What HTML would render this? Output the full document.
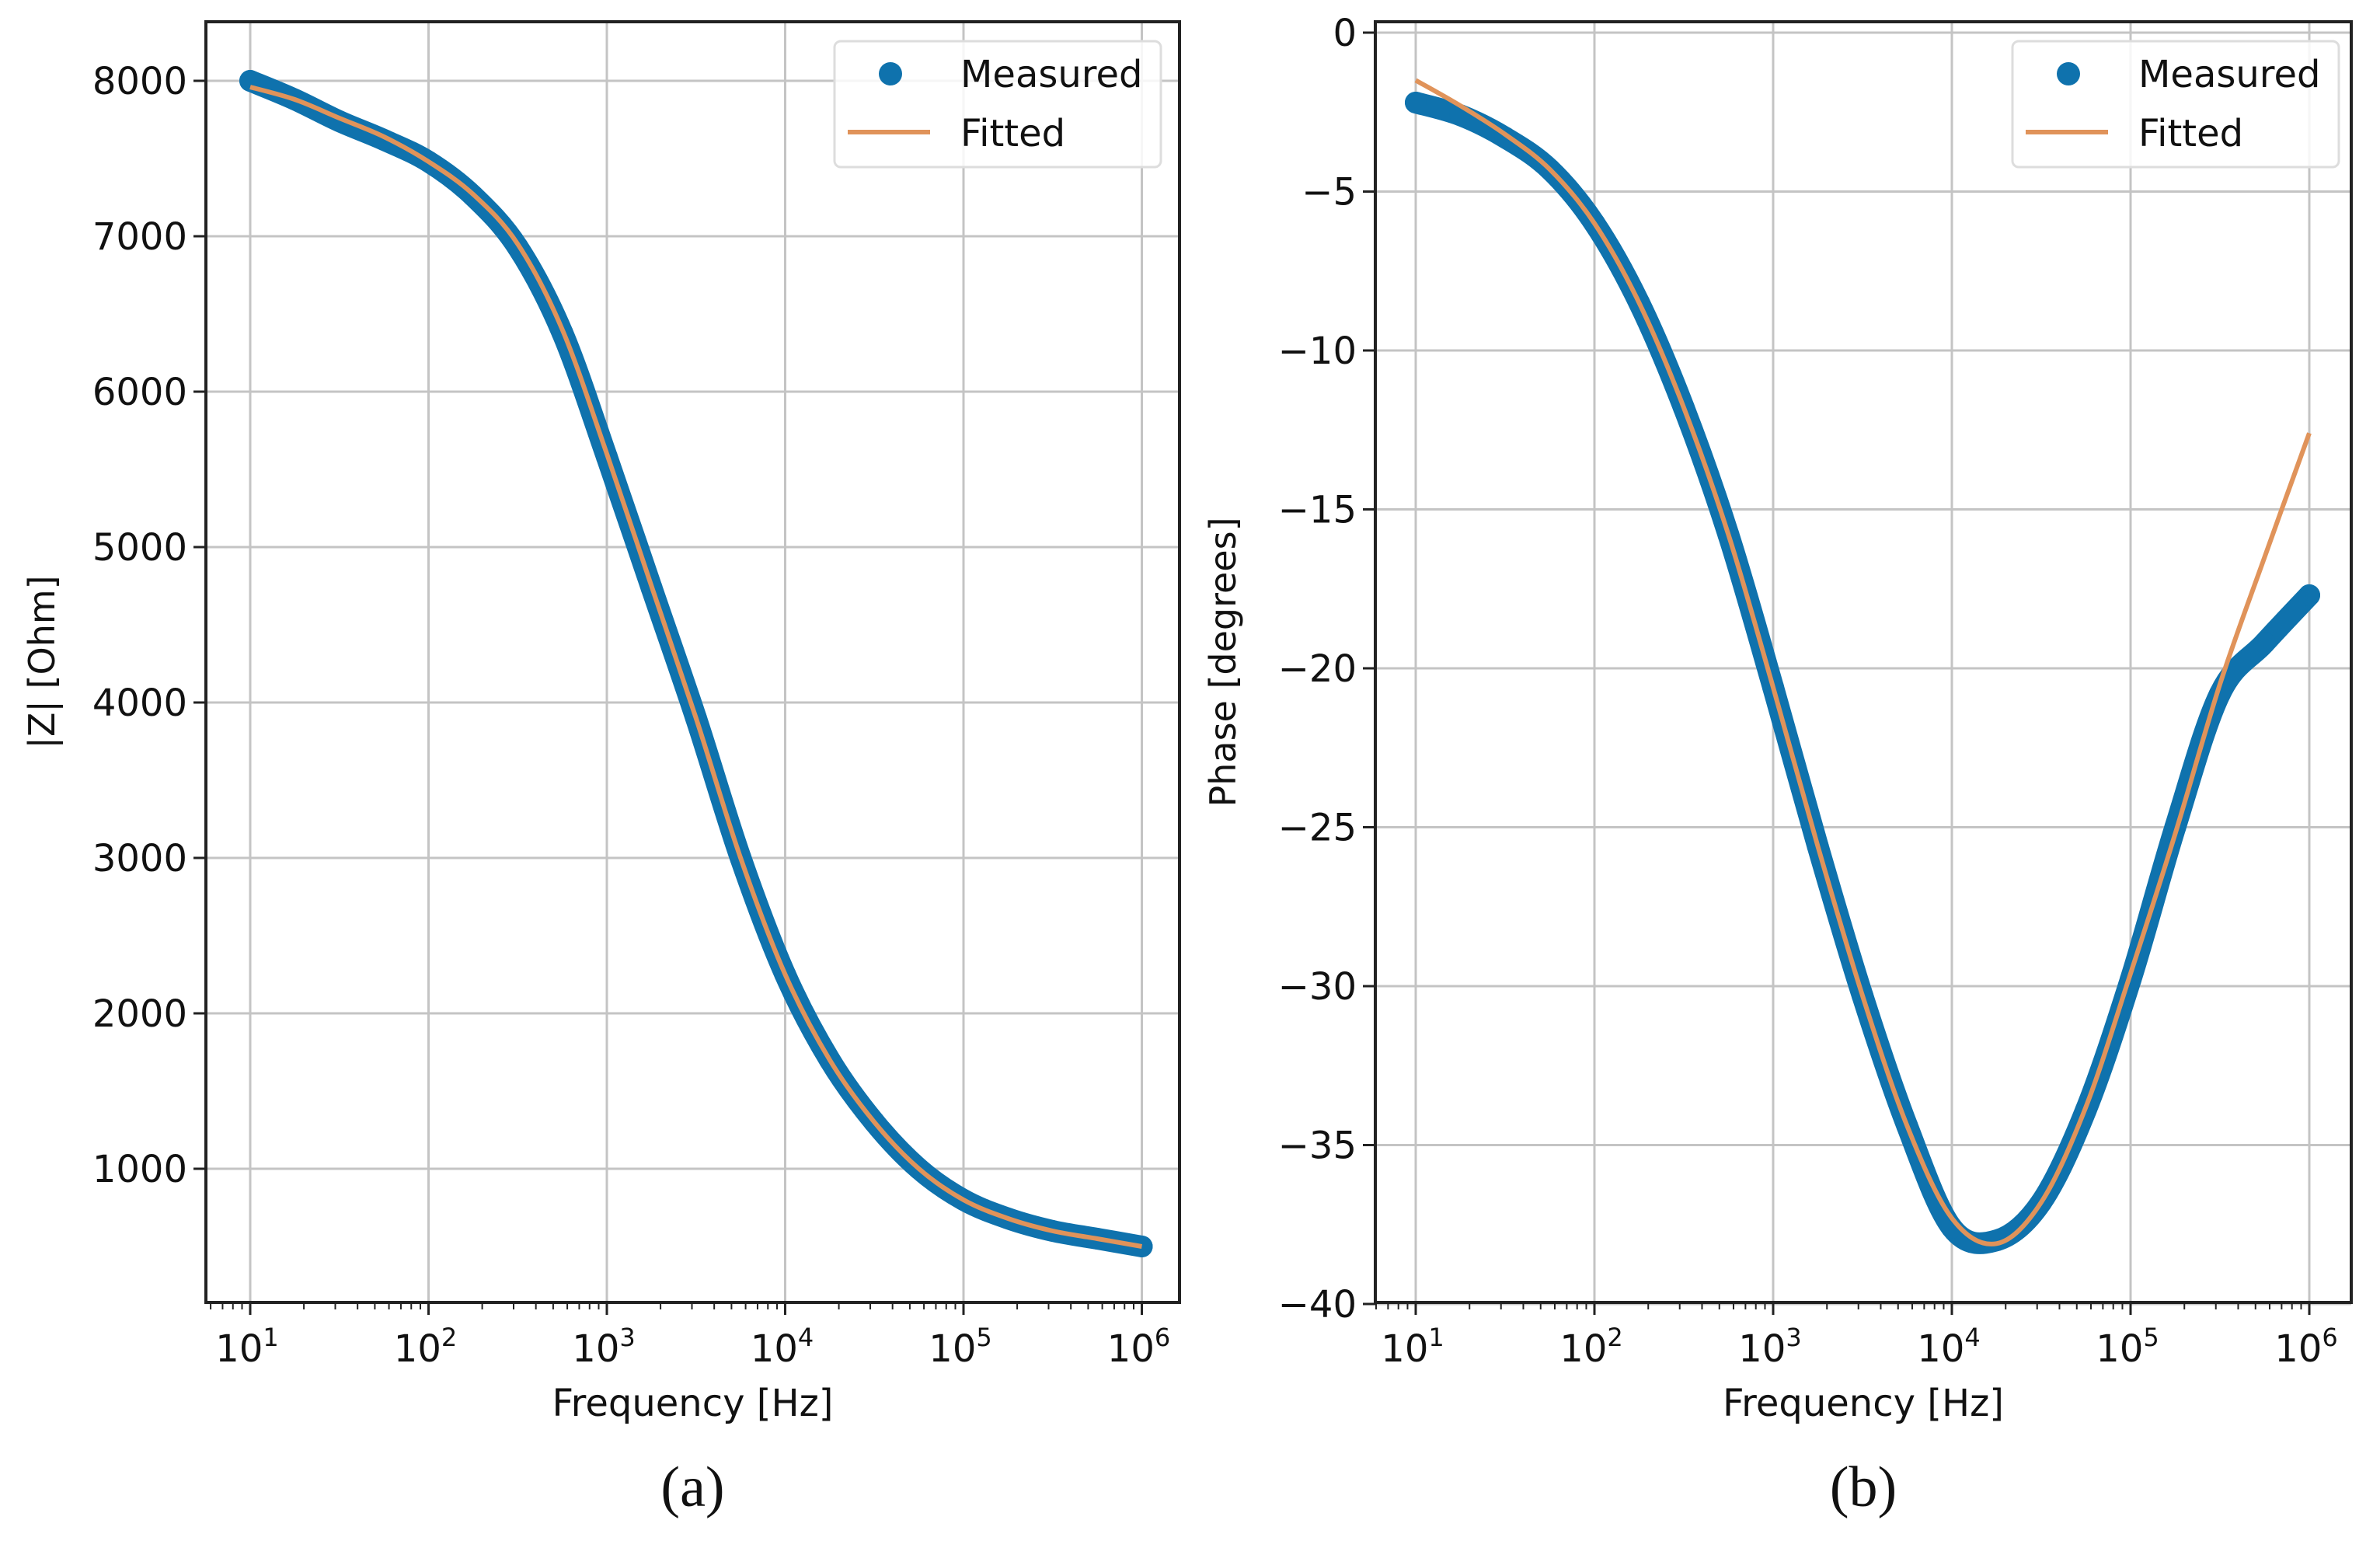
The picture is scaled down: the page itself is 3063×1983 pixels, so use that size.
<!DOCTYPE html>
<html><head><meta charset="utf-8"><style>
html,body{margin:0;padding:0;background:#fff;}
svg{display:block;}
text{font-family:"DejaVu Sans","Liberation Sans",sans-serif;fill:#111;}
.cap{font-family:"Liberation Serif","DejaVu Serif",serif;}
</style></head><body>
<svg id="fig" width="3063" height="1983" viewBox="0 0 3063 1983" xmlns="http://www.w3.org/2000/svg">
<rect width="3063" height="1983" fill="#fff"/>
</svg>
<script>
// Panel (a) data: log10(frequency) and |Z|
const logFreq = [1,1.25,1.5,1.75,2,2.25,2.5,2.75,3,3.25,3.5,3.75,4,4.25,4.5,4.75,5,5.25,5.5,5.75,6];
const zMeasured = [8000,7880,7740,7620,7480,7260,6930,6380,5580,4740,3900,3000,2250,1700,1300,1000,800,680,600,550,500];
const zFitted = [7960,7880,7760,7640,7480,7270,6950,6400,5600,4750,3900,3000,2250,1700,1300,1000,800,680,600,550,500];
const zTicks = [1000,2000,3000,4000,5000,6000,7000,8000];
// Panel (b) data: phase in degrees
const phaseMeasured = [-2.2,-2.6,-3.3,-4.3,-6.0,-8.5,-11.8,-15.8,-20.6,-25.6,-30.3,-34.4,-37.6,-38.0,-36.8,-33.9,-29.8,-25.0,-20.8,-19.2,-17.7];
const phaseFitted = [-1.5,-2.3,-3.2,-4.3,-6.0,-8.5,-11.8,-15.8,-20.6,-25.6,-30.3,-34.4,-37.3,-38.1,-36.8,-33.8,-29.6,-25.2,-20.5,-16.5,-12.6];
const phaseTicks = [0,-5,-10,-15,-20,-25,-30,-35,-40];
const decades = [1,2,3,4,5,6];

const NS='http://www.w3.org/2000/svg';
const svg=document.getElementById('fig');
function mk(tag,attrs,parent){const e=document.createElementNS(NS,tag);for(const k in attrs)e.setAttribute(k,attrs[k]);(parent||svg).appendChild(e);return e;}
function smooth(pts){
  let d='M'+pts[0][0]+','+pts[0][1];
  for(let i=0;i<pts.length-1;i++){
    const p0=pts[Math.max(0,i-1)],p1=pts[i],p2=pts[i+1],p3=pts[Math.min(pts.length-1,i+2)];
    const c1=[p1[0]+(p2[0]-p0[0])/6,p1[1]+(p2[1]-p0[1])/6];
    const c2=[p2[0]-(p3[0]-p1[0])/6,p2[1]-(p3[1]-p1[1])/6];
    d+=' C'+c1[0]+','+c1[1]+' '+c2[0]+','+c2[1]+' '+p2[0]+','+p2[1];
  }
  return d;
}

function panel(cfg){
  const g=mk('g',{});
  
  
  const X=v=>cfg.x0+(v-1)*cfg.dec;
  const Y=v=>cfg.yA+(v-cfg.vA)*cfg.ky;
  decades.forEach(d=>{const l=mk('line',{x1:X(d),x2:X(d),y1:cfg.top,y2:cfg.bot,stroke:'#c4c4c4','stroke-width':3},g);
    
    });
  cfg.ticks.forEach(t=>{const l=mk('line',{x1:cfg.left,x2:cfg.right,y1:Y(t),y2:Y(t),stroke:'#c4c4c4','stroke-width':3},g);
    
    });
  const pm=logFreq.map((f,i)=>[X(f),Y(cfg.meas[i])]);
  const band=mk('path',{d:smooth(pm),fill:'none',stroke:'#0f72ad','stroke-width':28,'stroke-linecap':'round','stroke-linejoin':'round'},g);
  
  
  logFreq.forEach((f,i)=>{const c=mk('circle',{cx:X(f),cy:Y(cfg.meas[i]),r:14,fill:'#0f72ad'},g);
    
    });
  const pf=logFreq.map((f,i)=>[X(f),Y(cfg.fit[i])]);
  const fl=mk('path',{d:smooth(pf),fill:'none',stroke:'#e0935a','stroke-width':6,'stroke-linejoin':'round'},g);
  
  
  const fr=mk('rect',{x:cfg.left,y:cfg.top,width:cfg.right-cfg.left,height:cfg.bot-cfg.top,fill:'none',stroke:'#222','stroke-width':4},g);
  
  
  for(let d=0;d<=6;d++){for(let m=1;m<10;m++){const v=d+Math.log10(m);const x=X(v);
    if(x<cfg.left||x>cfg.right)continue;
    mk('line',{x1:x,x2:x,y1:cfg.bot,y2:cfg.bot+(m===1?16:9),stroke:'#222','stroke-width':m===1?3:2},g);}}
  decades.forEach(d=>{const t=mk('text',{x:X(d)-4,y:1752,'font-size':48,'text-anchor':'middle'},g);
    
    
    t.textContent='10';const s=mk('tspan',{'font-size':32,dy:-20},t);s.textContent=String(d);});
  cfg.ticks.forEach(v=>{mk('line',{x1:cfg.left-16,x2:cfg.left,y1:Y(v),y2:Y(v),stroke:'#222','stroke-width':3},g);
    const t=mk('text',{x:cfg.left-24,y:Y(v)+17,'font-size':48,'text-anchor':'end'},g);
    
    
    t.textContent=v<0?'\u2212'+Math.abs(v):String(v);});
  const xl=mk('text',{x:(cfg.left+cfg.right)/2,y:1822,'font-size':48,'text-anchor':'middle'},g);
  
  
  xl.textContent='Frequency [Hz]';
  const yl=mk('text',{x:0,y:0,'font-size':46,'text-anchor':'middle',transform:`translate(${cfg.ylx},${(cfg.top+cfg.bot)/2}) rotate(-90)`},g);
  
  
  yl.textContent=cfg.ylabel;
  const L=cfg.legX;
  const lg=mk('g',{},g);
  
  
  mk('rect',{x:L,y:53,width:420,height:162,rx:8,fill:'rgba(255,255,255,0.85)',stroke:'#ddd','stroke-width':3},lg);
  mk('circle',{cx:L+72,cy:95,r:15,fill:'#0f72ad'},lg);
  const t1=mk('text',{x:L+162,y:112,'font-size':48},lg);t1.textContent='Measured';
  
  
  mk('line',{x1:L+17,x2:L+123,y1:170,y2:170,stroke:'#e0935a','stroke-width':6},lg);
  const t2=mk('text',{x:L+162,y:188,'font-size':48},lg);t2.textContent='Fitted';
  
  
  const cp=mk('text',{x:(cfg.left+cfg.right)/2,y:1938,'font-size':74,'text-anchor':'middle',class:'cap'},g);
  
  
  cp.textContent=cfg.cap;
}
panel({name:'panel-a-magnitude',left:265,right:1518,top:28,bot:1676,x0:322,dec:229.5,yA:104,vA:8000,ky:-0.2,
  ticks:zTicks,meas:zMeasured,fit:zFitted,ylabel:'|Z| [Ohm]',ylx:70,legX:1074,cap:'(a)'});
panel({name:'panel-b-phase',left:1770,right:3026,top:28,bot:1676,x0:1822,dec:230,yA:42,vA:0,ky:-40.9,
  ticks:phaseTicks,meas:phaseMeasured,fit:phaseFitted,ylabel:'Phase [degrees]',ylx:1590,legX:2590,cap:'(b)'});
</script>
</body></html>
